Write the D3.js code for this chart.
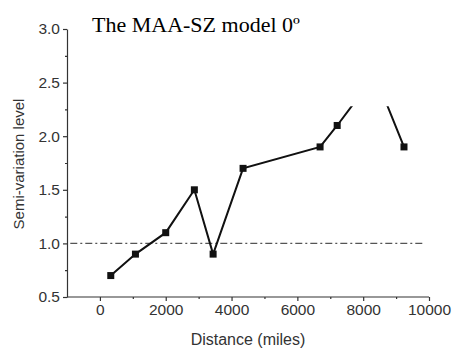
<!DOCTYPE html>
<html>
<head>
<meta charset="utf-8">
<script src="https://cdn.jsdelivr.net/npm/d3@7"></script>
<style>
  body { margin: 0; background: #fff; }
  svg { display: block; }
</style>
</head>
<body>
<svg id="chart" width="460" height="351"></svg>
<script>
// data (distance in miles, semi-variation level)
const distances = [330, 1080, 2000, 2870, 3440, 4350, 6690, 7210, 8360, 9240];
const levels = [0.70, 0.90, 1.10, 1.50, 0.90, 1.70, 1.90, 2.10, 2.57, 1.90];
const xTicks = [0, 2000, 4000, 6000, 8000, 10000];
const yTicks = [0.5, 1.0, 1.5, 2.0, 2.5, 3.0];
const refLevel = 1.0;
const visibleTop = 2.28; // the top of the plot is covered by the title box

// set the dimensions and margins of the graph
let margin, width, height;
let svg, chart;

window.addEventListener("load", function(event) {
    margin = {top: 29, right: 31, bottom: 54, left: 67};
    width = 460 - margin.left - margin.right;
    height = 351 - margin.top - margin.bottom;

    svg = d3.select("#chart");
    chart = svg.append("g")
        .attr("transform", "translate(" + margin.left + "," + margin.top + ")");

    drawChart();
});

function drawChart(){
    let data = distances.map((d, i) => ({x: d, y: levels[i]}));

    let x = d3.scaleLinear()
        .domain([-1000, 10000])
        .range([0, width]);

    let y = d3.scaleLinear()
        .domain([0.5, 3.0])
        .range([height, 0]);

    // x axis with minor ticks
    let xAxis = chart.append("g")
        .attr("transform", "translate(0," + height + ")")
        .call(d3.axisBottom(x).tickValues(xTicks).tickSize(4).tickSizeOuter(0).tickPadding(3)
            .tickFormat(d3.format("d")));
    xAxis.select(".domain").attr("d", "M0,0H" + x(10000));
    chart.append("g")
        .attr("transform", "translate(0," + height + ")")
        .call(d3.axisBottom(x).tickValues(d3.range(1000, 10000, 2000)).tickSize(2).tickFormat(""))
        .select(".domain").remove();

    // y axis with minor ticks
    let yAxis = chart.append("g")
        .call(d3.axisLeft(y).tickValues(yTicks).tickSize(4).tickSizeOuter(0).tickPadding(3)
            .tickFormat(d3.format(".1f")));
    chart.append("g")
        .call(d3.axisLeft(y).tickValues(d3.range(0.75, 3.0, 0.5)).tickSize(2).tickFormat(""))
        .select(".domain").remove();

    chart.selectAll(".domain, .tick line")
        .attr("stroke", "#333")
        .attr("stroke-width", 1.2);
    chart.selectAll(".tick text")
        .attr("font-family", "Liberation Sans, Arial, sans-serif")
        .attr("font-size", 15.5)
        .attr("fill", "#333");

    // reference line at 1.0
    chart.append("line")
        .attr("x1", x(-900))
        .attr("x2", x(9800))
        .attr("y1", y(refLevel))
        .attr("y2", y(refLevel))
        .attr("stroke", "#555")
        .attr("stroke-width", 1.3)
        .attr("stroke-dasharray", "7,3,2,3");

    // clip away the part hidden under the title box
    svg.append("clipPath")
        .attr("id", "plotClip")
        .append("rect")
        .attr("x", 0)
        .attr("y", y(visibleTop))
        .attr("width", width + margin.right)
        .attr("height", height - y(visibleTop) + 10);

    let plot = chart.append("g").attr("clip-path", "url(#plotClip)");

    plot.append("path")
        .datum(data)
        .attr("fill", "none")
        .attr("stroke", "#111")
        .attr("stroke-width", 2)
        .attr("d", d3.line()
            .x((d) => { return x(d.x) })
            .y((d) => { return y(d.y) })
        );

    plot.selectAll("rect.pt")
        .data(data)
        .enter().append("rect")
        .attr("class", "pt")
        .attr("x", (d) => x(d.x) - 3.5)
        .attr("y", (d) => y(d.y) - 3.5)
        .attr("width", 7)
        .attr("height", 7)
        .attr("fill", "#111");

    // title
    svg.append("text")
        .attr("x", 92)
        .attr("y", 32)
        .attr("font-family", "Liberation Serif, Times New Roman, serif")
        .attr("font-size", 22)
        .attr("fill", "#000")
        .text("The MAA-SZ model 0º");

    // axis titles
    svg.append("text")
        .attr("x", margin.left + x(4500))
        .attr("y", 345)
        .attr("text-anchor", "middle")
        .attr("font-family", "Liberation Sans, Arial, sans-serif")
        .attr("font-size", 16)
        .attr("fill", "#333")
        .text("Distance (miles)");

    svg.append("text")
        .attr("transform", "translate(24," + 164 + ") rotate(-90)")
        .attr("text-anchor", "middle")
        .attr("font-family", "Liberation Sans, Arial, sans-serif")
        .attr("font-size", 15)
        .attr("fill", "#333")
        .text("Semi-variation level");
}
</script>
</body>
</html>
